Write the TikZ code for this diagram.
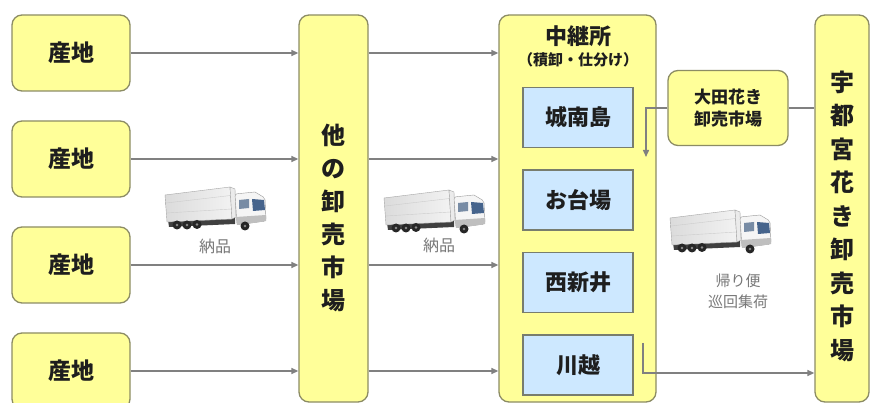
\documentclass[tikz,border=0pt]{standalone}
\usepackage{fontspec}
\setmainfont{Noto Sans CJK JP}
\usetikzlibrary{arrows.meta}

\definecolor{boxfill}{RGB}{255,255,153}
\definecolor{boxedge}{RGB}{140,140,100}
\definecolor{subfill}{RGB}{205,232,255}
\definecolor{subedge}{RGB}{120,125,110}
\definecolor{linegray}{RGB}{128,128,128}
\definecolor{labelgray}{RGB}{120,120,120}
\definecolor{inkdark}{RGB}{30,30,30}
\definecolor{glass}{RGB}{70,100,140}
\definecolor{sideglass}{RGB}{120,140,165}

\tikzset{
  ybox/.style={draw=boxedge, line width=1.3pt, fill=boxfill, rounded corners=10pt,
               inner sep=0pt, text=inkdark},
  bbox/.style={draw=subedge, line width=1.3pt, fill=subfill, inner sep=0pt,
               minimum width=110pt, minimum height=60pt, text=inkdark,
               font=\fontsize{22}{24}\selectfont\bfseries},
  srcbox/.style={ybox, minimum width=118pt, minimum height=76pt,
                 font=\fontsize{23}{26}\selectfont\bfseries},
  vtext/.style={align=center, text=inkdark, inner sep=0pt},
  note/.style={align=center, text=labelgray, inner sep=0pt},
  conn/.style={draw=linegray, line width=1.4pt},
  arr/.style={conn, -{Triangle[length=7pt,width=6pt]}},
  truck/.pic={
    % chassis under the cargo body
    \fill[black!75] (3,33) -- (70,30) -- (70,37) -- (4,40) -- cycle;
    % cargo body, side face
    \shade[left color=black!14, right color=black!5, draw=black!35, line width=0.4pt]
      (0,8) -- (65,0) -- (67,32) -- (2,35) -- cycle;
    \draw[black!20, line width=0.4pt] (1,16) -- (65.5,8.5) (1.5,26) -- (66.5,22);
    % cargo front face
    \fill[black!8, draw=black!35, line width=0.4pt] (65,0) -- (70,2) -- (71,30) -- (67,32) -- cycle;
    % cab
    \fill[black!4, draw=black!40, line width=0.4pt]
      (70,7) -- (90,5) [rounded corners=2pt] -- (100,11) -- (101,34) -- (72,38) -- cycle;
    \fill[black!25] (71,30) -- (101,28) -- (101,34) -- (72,38) -- cycle;
    % windows
    \fill[glass] (87,12) -- (99,13) -- (100,23) -- (88,24) -- cycle;
    \fill[sideglass] (74,13) -- (84,12) -- (84,21) -- (74,22) -- cycle;
    % wheels
    \foreach \wx/\wy in {12/38, 22/38, 32/37.5, 80/39}
      \fill[black!85] (\wx,\wy) circle (4.5);
    \foreach \wx/\wy in {12/38, 22/38, 32/37.5, 80/39}
      \fill[black!45] (\wx,\wy) circle (1.3);
  }
}

\begin{document}
\begin{tikzpicture}[x=1pt, y=-1pt]
  \useasboundingbox (0,0) rectangle (873,403);
  \fill[white] (0,0) rectangle (873,403);
  \clip (0,0) rectangle (873,403);

  % producing areas
  \node[srcbox] (s1) at (71,53)  {産地};
  \node[srcbox] (s2) at (71,159) {産地};
  \node[srcbox] (s3) at (71,265) {産地};
  \node[srcbox] (s4) at (71,371) {産地};

  % other wholesale markets
  \node[ybox, minimum width=69pt, minimum height=387pt] (oth) at (333.5,208.5) {};
  \node[vtext, font=\fontsize{24}{33}\selectfont\bfseries] (othtxt) at (333.5,218)
    {他\\の\\卸\\売\\市\\場};

  % relay station
  \node[ybox, minimum width=157pt, minimum height=387pt] (relay) at (577.5,208.5) {};
  \node[vtext, font=\fontsize{22}{24}\selectfont\bfseries] (rtitle) at (578,36) {中継所};
  \node[vtext, font=\fontsize{15}{16}\selectfont\bfseries] (rsub) at (578,60) {（積卸・仕分け）};
  \node[bbox] (b1) at (578,117.5) {城南島};
  \node[bbox] (b2) at (578,200)   {お台場};
  \node[bbox] (b3) at (578,282.5) {西新井};
  \node[bbox] (b4) at (578,365)   {川越};

  % Ota market
  \node[ybox, minimum width=120pt, minimum height=75pt, align=center,
        font=\fontsize{17}{22}\selectfont\bfseries] (ota) at (728,108) {大田花き\\卸売市場};

  % Utsunomiya market
  \node[ybox, minimum width=54pt, minimum height=387pt] (uts) at (842,208.5) {};
  \node[vtext, font=\fontsize{24}{33.5}\selectfont\bfseries] (utstxt) at (842,216)
    {宇\\都\\宮\\花\\き\\卸\\売\\市\\場};

  % deliveries: producers -> other markets -> relay station
  \foreach \s in {s1,s2,s3,s4}{
    \draw[arr] (\s.east) -- (\s.east -| oth.west);
    \draw[arr] (\s.east -| oth.east) -- (\s.east -| relay.west);
  }

  % Ota -> Utsunomiya, and Ota -> relay station
  \draw[conn] (ota.east) -- (ota.east -| uts.west);
  \coordinate (otadrop) at (646,157);
  \draw[arr] (ota.west) -| (otadrop);

  % return trip from Kawagoe to Utsunomiya
  \coordinate (kstart) at (643,343);
  \coordinate (kturn) at (643,373);
  \draw[arr] (kstart) -- (kturn) -- (kturn -| uts.west);

  % trucks and their captions
  \pic at (165,187) {truck};
  \node[note, font=\fontsize{16}{18}\selectfont] (n1) at (215,246) {納品};
  \pic at (384,190) {truck};
  \node[note, font=\fontsize{16}{18}\selectfont] (n2) at (439,245) {納品};
  \pic at (670,210) {truck};
  \node[note, font=\fontsize{15}{21}\selectfont] (n3) at (738,291) {帰り便\\巡回集荷};
\end{tikzpicture}
\end{document}
